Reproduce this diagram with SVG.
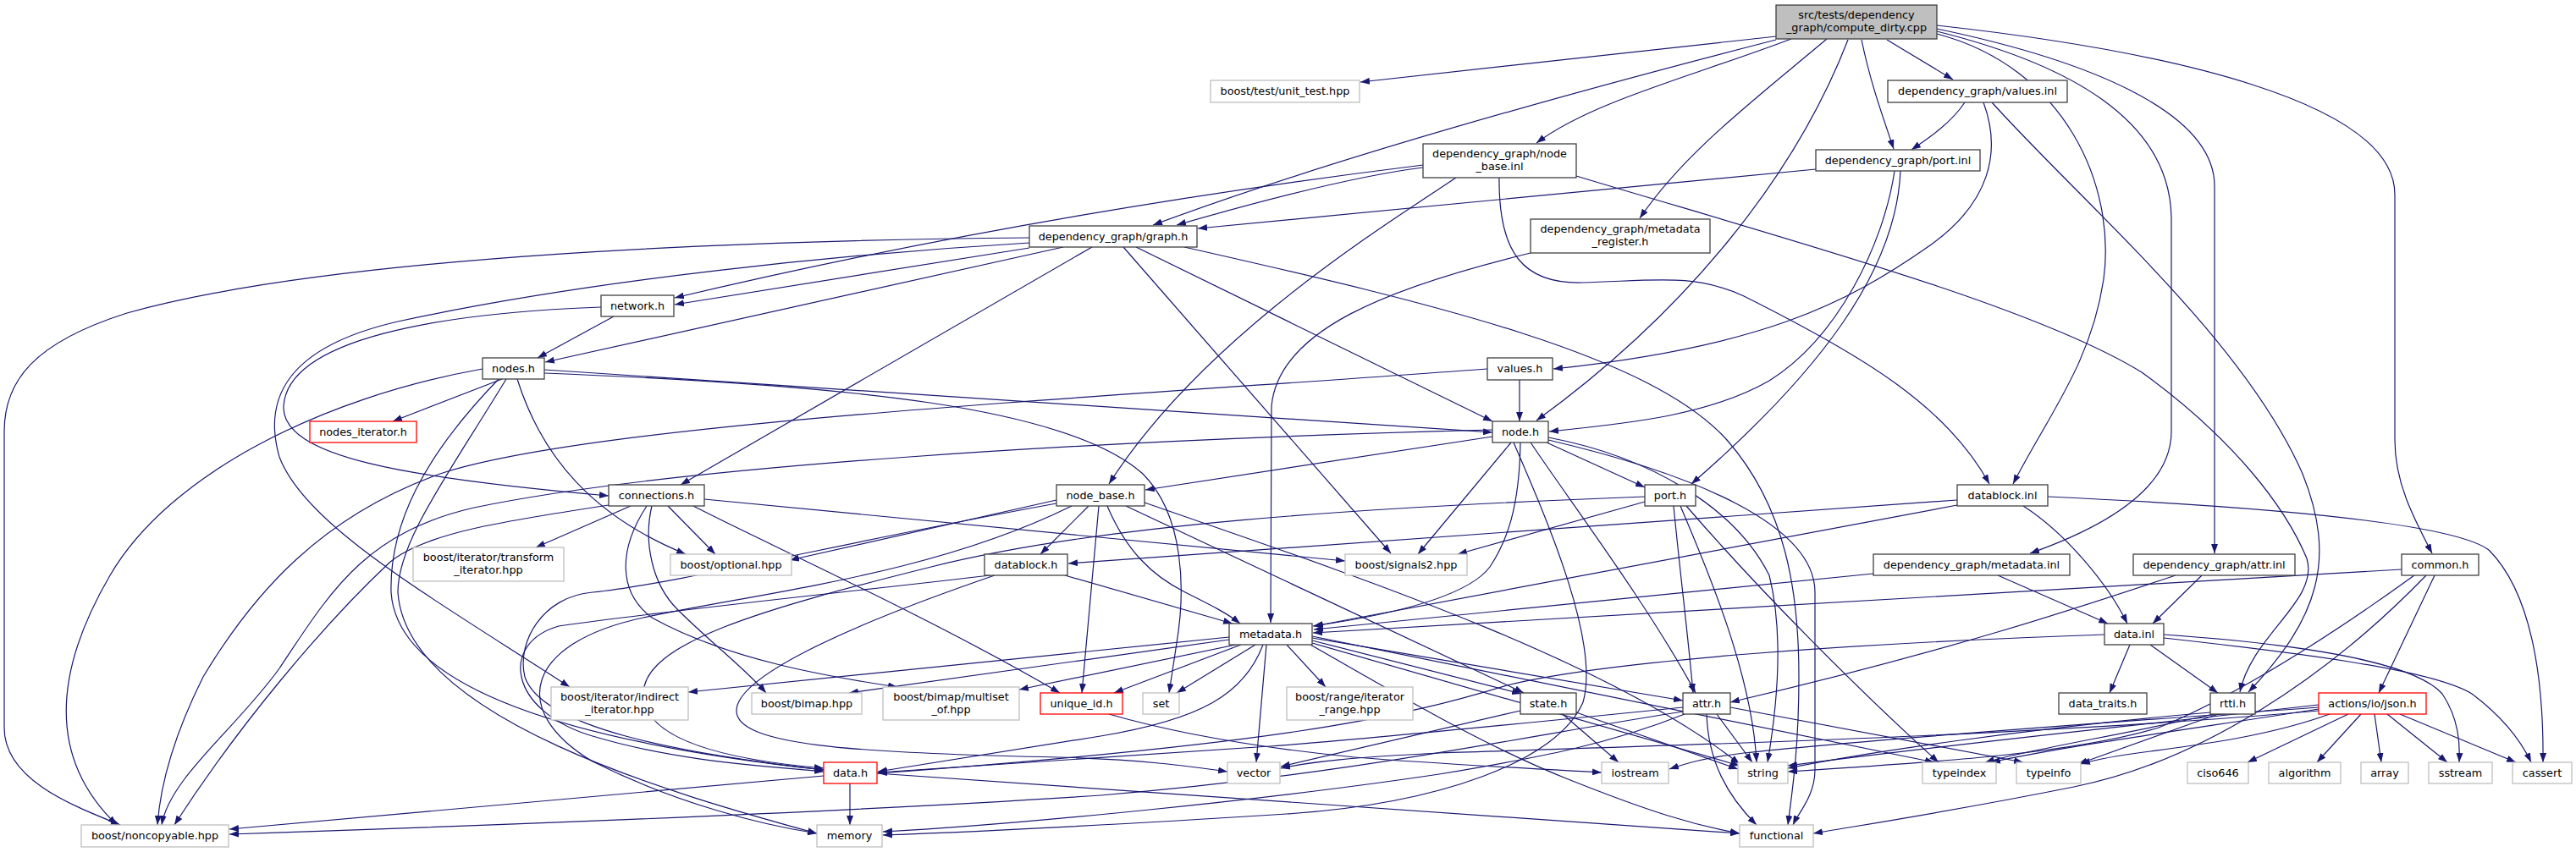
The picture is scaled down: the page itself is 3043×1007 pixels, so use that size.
<svg xmlns="http://www.w3.org/2000/svg" width="3043" height="1007" viewBox="0 0 3043 1007">
<style>
rect{fill:#fff;stroke:#404040;stroke-width:1.3}
.g rect{stroke:#bfbfbf}
.r rect{stroke:#ff0000}
.root rect{fill:#bfbfbf}
text{font-family:"DejaVu Sans","Liberation Sans",sans-serif;font-size:12.8px;text-anchor:middle;fill:#000}
#edges path{fill:none;stroke:#191970;stroke-width:1.2}
</style>
<defs>
<marker id="a" viewBox="0 0 11 8" refX="11" refY="4" markerWidth="11" markerHeight="8" orient="auto" markerUnits="userSpaceOnUse"><path d="M0,0L11,4L0,8z" fill="#191970"/></marker>
</defs>
<rect x="0" y="0" width="3043" height="1007" style="fill:#fff;stroke:none"/>
<g id="edges" marker-end="url(#a)">
<path d="M2098,43 L1607,97"/>
<path d="M2098,47 Q1620,170 1362,266"/>
<path d="M2116,46 C2000,90 1880,120 1815,169"/>
<path d="M2158,46 C2070,120 1990,180 1937,258"/>
<path d="M2183,47 C2120,210 1990,370 1815,497"/>
<path d="M2199,47 C2210,100 2225,140 2237,176"/>
<path d="M2229,47 L2307,94"/>
<path d="M2288,40 C2440,80 2500,220 2485,330 C2470,430 2420,490 2378,572"/>
<path d="M2288,37 C2440,75 2565,140 2565,260 L2565,510 C2565,580 2480,625 2398,654"/>
<path d="M2288,34 C2460,70 2616,130 2616,220 L2616,654"/>
<path d="M2288,30 C2560,60 2829,120 2829,230 L2829,520 C2829,570 2850,610 2873,654"/>
<path d="M2321,121 C2305,145 2280,162 2258,177"/>
<path d="M2343,121 C2365,180 2350,240 2280,290 C2180,360 2080,410 1835,436"/>
<path d="M2353,121 C2460,240 2650,400 2720,560 C2760,660 2740,730 2656,818"/>
<path d="M2145,200 L1415,270"/>
<path d="M2238,202 C2225,290 2170,400 2090,450 C2020,490 1930,500 1830,510"/>
<path d="M2245,202 C2240,320 2150,440 1998,572"/>
<path d="M1681,198 C1600,208 1480,240 1390,266"/>
<path d="M1681,195 C1400,230 1100,280 797,352"/>
<path d="M1720,210 C1630,270 1420,400 1310,572"/>
<path d="M1771,210 C1770,300 1800,336 1870,334 C1950,332 2000,322 2060,350 C2200,420 2300,480 2350,572"/>
<path d="M1862,208 C2100,280 2400,360 2530,440 C2640,520 2700,600 2725,660 C2740,710 2660,750 2646,818"/>
<path d="M1808,299 C1640,340 1510,390 1502,480 L1501,736"/>
<path d="M1216,281 C900,284 400,300 150,370 C40,405 5,450 5,510 L5,860 C5,920 80,950 142,975"/>
<path d="M1216,293 L797,360"/>
<path d="M1256,292 L644,428"/>
<path d="M1290,292 L804,573"/>
<path d="M1327,292 L1643,654"/>
<path d="M1342,292 L1763,498"/>
<path d="M1399,292 C1700,360 1950,420 2040,520 C2110,600 2125,700 2125,800 C2125,880 2118,930 2112,975"/>
<path d="M1216,287 C1000,300 700,330 470,380 C340,410 310,470 330,540 C360,620 500,700 673,812"/>
<path d="M725,374 L635,423"/>
<path d="M710,363 C520,370 340,400 335,480 C332,540 480,565 719,586"/>
<path d="M593,448 L464,498"/>
<path d="M643,437 L1763,511"/>
<path d="M643,441 C1000,455 1260,480 1350,560 C1400,610 1400,700 1390,760 L1381,819"/>
<path d="M570,436 C380,470 200,560 130,680 C60,800 60,900 138,975"/>
<path d="M611,448 C640,540 700,610 810,655"/>
<path d="M589,448 C500,540 460,620 462,700 C470,820 700,880 973,910"/>
<path d="M598,448 C530,560 470,640 470,700 C480,850 800,940 965,985"/>
<path d="M1795,449 L1795,498"/>
<path d="M1757,436 C1300,470 700,500 520,560 C380,610 300,700 240,800 C210,860 190,920 186,975"/>
<path d="M1763,516 L1353,579"/>
<path d="M1827,523 L1943,576"/>
<path d="M1785,523 L1675,655"/>
<path d="M1796,523 C1795,600 1780,640 1760,670 C1730,710 1620,730 1551,740"/>
<path d="M1808,523 C1860,600 1950,720 2003,819"/>
<path d="M1829,517 C1950,540 2050,600 2090,680 C2110,760 2095,860 2088,901"/>
<path d="M1829,520 C2000,560 2144,620 2144,700 L2144,910 C2144,940 2125,960 2118,975"/>
<path d="M1788,523 C1830,620 1890,760 1870,830 C1840,900 1700,950 1520,962 C1300,976 1150,983 1043,987"/>
<path d="M1763,508 C1300,520 800,550 560,600 C430,630 390,700 330,790 C280,860 200,920 191,975"/>
<path d="M1943,593 L1722,655"/>
<path d="M1977,598 C1985,680 1995,760 2000,819"/>
<path d="M1985,598 C2020,680 2070,800 2075,901"/>
<path d="M1992,598 C2080,700 2200,820 2290,901"/>
<path d="M1943,587 C1600,600 1300,620 1100,670 C900,720 760,760 760,820 C760,880 880,900 973,908"/>
<path d="M789,598 L845,655"/>
<path d="M832,590 L1589,663"/>
<path d="M819,598 C900,640 1100,730 1252,819"/>
<path d="M770,598 C760,640 770,690 800,720 C840,760 880,790 905,819"/>
<path d="M764,598 C730,650 730,700 770,730 C860,780 980,800 1060,812"/>
<path d="M745,598 L633,647"/>
<path d="M719,597 C600,615 500,630 460,665 C380,740 280,860 206,975"/>
<path d="M1248,591 L933,662"/>
<path d="M1286,598 L1229,655"/>
<path d="M1308,598 C1330,650 1360,680 1400,700 C1430,715 1450,725 1465,737"/>
<path d="M1298,598 L1278,819"/>
<path d="M1330,598 L1800,819"/>
<path d="M1352,594 C1600,680 1900,780 2055,903"/>
<path d="M1248,595 C1000,640 800,690 700,700 C640,705 610,760 620,800 C640,860 800,890 973,910"/>
<path d="M1266,598 C1100,680 900,700 760,730 C620,760 600,840 700,900 C800,950 900,975 965,985"/>
<path d="M1258,680 L1456,737"/>
<path d="M1170,680 C1000,700 800,720 660,740 C590,760 600,840 700,870 C800,900 900,905 973,912"/>
<path d="M1175,680 C1000,740 870,800 870,840 C870,880 1000,890 1250,895 C1350,898 1400,905 1450,912"/>
<path d="M1452,753 L813,818"/>
<path d="M1452,756 L1003,819"/>
<path d="M1460,762 L1204,815"/>
<path d="M1466,762 L1316,819"/>
<path d="M1483,762 L1390,819"/>
<path d="M1496,762 L1484,901"/>
<path d="M1492,762 C1470,820 1420,850 1300,870 C1180,890 1080,905 1037,912"/>
<path d="M1520,762 L1566,812"/>
<path d="M1550,757 L1797,820"/>
<path d="M1550,754 L1988,828"/>
<path d="M1550,760 L2055,905"/>
<path d="M1548,762 C1650,820 1750,880 1850,920 C1950,960 2000,975 2055,985"/>
<path d="M1550,752 L2285,901"/>
<path d="M1004,926 L1004,975"/>
<path d="M973,917 L271,980"/>
<path d="M1036,914 L2055,985"/>
<path d="M1310,844 C1400,870 1500,885 1600,895 C1700,903 1800,908 1892,913"/>
<path d="M1796,840 L1513,906"/>
<path d="M1846,844 L1912,901"/>
<path d="M1862,842 L2053,909"/>
<path d="M1988,836 C1800,855 1600,875 1500,882 C1300,895 1150,905 1037,913"/>
<path d="M1988,841 C1800,870 1600,915 1300,940 C1000,960 600,975 271,986"/>
<path d="M1990,844 C1900,880 1820,895 1700,915 C1500,945 1200,975 1043,983"/>
<path d="M2028,844 L2070,901"/>
<path d="M2016,844 C2018,900 2040,940 2075,975"/>
<path d="M2044,836 L2390,901"/>
<path d="M2516,762 L2492,819"/>
<path d="M2540,762 L2620,819"/>
<path d="M2556,750 C2700,760 2850,780 2885,820 C2905,850 2906,880 2905,901"/>
<path d="M2556,754 C2700,770 2870,790 2920,820 C2960,850 2980,880 2990,901"/>
<path d="M2486,750 C2200,760 1900,780 1780,810 C1650,850 1500,880 1037,914"/>
<path d="M2615,844 C2500,870 2400,885 2345,901"/>
<path d="M2620,844 L2455,903"/>
<path d="M2611,842 C2400,860 2200,890 2112,908"/>
<path d="M2774,844 L2655,901"/>
<path d="M2789,844 L2737,901"/>
<path d="M2805,844 L2813,901"/>
<path d="M2820,844 L2891,901"/>
<path d="M2835,844 L2972,901"/>
<path d="M2752,844 C2680,870 2600,880 2540,888 C2500,893 2475,898 2458,903"/>
<path d="M2739,838 C2600,860 2450,880 2352,901"/>
<path d="M2739,833 C2500,860 2300,880 2112,905"/>
<path d="M2739,836 C2400,860 2150,880 2060,890 C2010,896 1990,903 1972,909"/>
<path d="M2739,840 C2400,870 2000,880 1700,890 C1600,895 1550,900 1513,908"/>
<path d="M2876,680 L2810,819"/>
<path d="M2837,673 L1551,748"/>
<path d="M2852,680 C2700,790 2600,840 2550,860 C2450,890 2300,900 2112,912"/>
<path d="M2866,680 C2750,800 2600,900 2450,930 C2300,960 2200,975 2142,985"/>
<path d="M2312,591 L1262,666"/>
<path d="M2312,597 L1552,740"/>
<path d="M2390,598 C2440,630 2490,690 2513,737"/>
<path d="M2419,587 C2700,600 2900,620 2940,650 C2990,700 3005,800 3004,901"/>
<path d="M2213,678 L1552,744"/>
<path d="M2360,680 L2490,737"/>
<path d="M2570,680 C2450,720 2300,770 2044,830"/>
<path d="M2601,680 L2543,737"/>
</g>
<g id="n-root" class="root"><rect x="2098" y="6" width="190" height="40"/><text x="2193" y="22">src/tests/dependency</text><text x="2193" y="37">_graph/compute_dirty.cpp</text></g>
<g id="n-unit" class="g"><rect x="1430" y="95" width="176" height="26"/><text x="1518" y="112">boost/test/unit_test.hpp</text></g>
<g id="n-vinl"><rect x="2230" y="95" width="212" height="26"/><text x="2336" y="112">dependency_graph/values.inl</text></g>
<g id="n-nbinl"><rect x="1681" y="170" width="181" height="40"/><text x="1771.5" y="186">dependency_graph/node</text><text x="1771.5" y="201">_base.inl</text></g>
<g id="n-pinl"><rect x="2145" y="177" width="194" height="25"/><text x="2242" y="194">dependency_graph/port.inl</text></g>
<g id="n-graph"><rect x="1216" y="267" width="198" height="25"/><text x="1315" y="284">dependency_graph/graph.h</text></g>
<g id="n-mreg"><rect x="1808" y="259" width="212" height="40"/><text x="1914" y="275">dependency_graph/metadata</text><text x="1914" y="290">_register.h</text></g>
<g id="n-network"><rect x="710" y="349" width="86" height="25"/><text x="753" y="366">network.h</text></g>
<g id="n-nodes"><rect x="570" y="423" width="73" height="25"/><text x="606.5" y="440">nodes.h</text></g>
<g id="n-valuesh"><rect x="1757" y="423" width="77" height="26"/><text x="1795.5" y="440">values.h</text></g>
<g id="n-nit" class="r"><rect x="366" y="498" width="126" height="25"/><text x="429" y="515">nodes_iterator.h</text></g>
<g id="n-node"><rect x="1763" y="498" width="66" height="25"/><text x="1796" y="515">node.h</text></g>
<g id="n-conn"><rect x="719" y="573" width="113" height="25"/><text x="775.5" y="590">connections.h</text></g>
<g id="n-nbh"><rect x="1248" y="573" width="104" height="25"/><text x="1300" y="590">node_base.h</text></g>
<g id="n-porth"><rect x="1943" y="573" width="60" height="25"/><text x="1973" y="590">port.h</text></g>
<g id="n-dbinl"><rect x="2312" y="573" width="107" height="25"/><text x="2365.5" y="590">datablock.inl</text></g>
<g id="n-trans" class="g"><rect x="488" y="647" width="178" height="40"/><text x="577" y="663">boost/iterator/transform</text><text x="577" y="678">_iterator.hpp</text></g>
<g id="n-opt" class="g"><rect x="792" y="655" width="143" height="25"/><text x="863.5" y="672">boost/optional.hpp</text></g>
<g id="n-dbh"><rect x="1163" y="655" width="98" height="25"/><text x="1212" y="672">datablock.h</text></g>
<g id="n-sig" class="g"><rect x="1589" y="655" width="144" height="25"/><text x="1661" y="672">boost/signals2.hpp</text></g>
<g id="n-minl"><rect x="2213" y="655" width="232" height="25"/><text x="2329" y="672">dependency_graph/metadata.inl</text></g>
<g id="n-ainl"><rect x="2520" y="655" width="191" height="25"/><text x="2615.5" y="672">dependency_graph/attr.inl</text></g>
<g id="n-common"><rect x="2837" y="655" width="91" height="25"/><text x="2882.5" y="672">common.h</text></g>
<g id="n-meta"><rect x="1452" y="737" width="98" height="25"/><text x="1501" y="754">metadata.h</text></g>
<g id="n-dinl"><rect x="2486" y="737" width="70" height="25"/><text x="2521" y="754">data.inl</text></g>
<g id="n-indir" class="g"><rect x="651" y="812" width="162" height="39"/><text x="732" y="828">boost/iterator/indirect</text><text x="732" y="843">_iterator.hpp</text></g>
<g id="n-bimap" class="g"><rect x="888" y="819" width="130" height="25"/><text x="953" y="836">boost/bimap.hpp</text></g>
<g id="n-mset" class="g"><rect x="1043" y="812" width="161" height="39"/><text x="1123.5" y="828">boost/bimap/multiset</text><text x="1123.5" y="843">_of.hpp</text></g>
<g id="n-uid" class="r"><rect x="1229" y="819" width="97" height="25"/><text x="1277.5" y="836">unique_id.h</text></g>
<g id="n-set" class="g"><rect x="1350" y="819" width="43" height="25"/><text x="1371.5" y="836">set</text></g>
<g id="n-range" class="g"><rect x="1520" y="812" width="149" height="39"/><text x="1594.5" y="828">boost/range/iterator</text><text x="1594.5" y="843">_range.hpp</text></g>
<g id="n-state"><rect x="1796" y="819" width="66" height="25"/><text x="1829" y="836">state.h</text></g>
<g id="n-attrh"><rect x="1988" y="819" width="56" height="25"/><text x="2016" y="836">attr.h</text></g>
<g id="n-dtraits"><rect x="2432" y="819" width="104" height="25"/><text x="2484" y="836">data_traits.h</text></g>
<g id="n-rtti"><rect x="2611" y="819" width="53" height="25"/><text x="2637.5" y="836">rtti.h</text></g>
<g id="n-json" class="r"><rect x="2739" y="819" width="127" height="25"/><text x="2802.5" y="836">actions/io/json.h</text></g>
<g id="n-datah" class="r"><rect x="973" y="901" width="63" height="25"/><text x="1004.5" y="918">data.h</text></g>
<g id="n-vector" class="g"><rect x="1450" y="901" width="62" height="25"/><text x="1481" y="918">vector</text></g>
<g id="n-iostream" class="g"><rect x="1892" y="901" width="79" height="25"/><text x="1931.5" y="918">iostream</text></g>
<g id="n-string" class="g"><rect x="2053" y="901" width="59" height="25"/><text x="2082.5" y="918">string</text></g>
<g id="n-tindex" class="g"><rect x="2271" y="901" width="87" height="25"/><text x="2314.5" y="918">typeindex</text></g>
<g id="n-tinfo" class="g"><rect x="2382" y="901" width="76" height="25"/><text x="2420" y="918">typeinfo</text></g>
<g id="n-ciso" class="g"><rect x="2584" y="901" width="72" height="25"/><text x="2620" y="918">ciso646</text></g>
<g id="n-algo" class="g"><rect x="2680" y="901" width="85" height="25"/><text x="2722.5" y="918">algorithm</text></g>
<g id="n-array" class="g"><rect x="2789" y="901" width="56" height="25"/><text x="2817" y="918">array</text></g>
<g id="n-sstream" class="g"><rect x="2869" y="901" width="75" height="25"/><text x="2906.5" y="918">sstream</text></g>
<g id="n-cassert" class="g"><rect x="2968" y="901" width="70" height="25"/><text x="3003" y="918">cassert</text></g>
<g id="n-nonc" class="g"><rect x="96" y="975" width="174" height="26"/><text x="183" y="992">boost/noncopyable.hpp</text></g>
<g id="n-memory" class="g"><rect x="965" y="975" width="77" height="26"/><text x="1003.5" y="992">memory</text></g>
<g id="n-func" class="g"><rect x="2055" y="975" width="87" height="26"/><text x="2098.5" y="992">functional</text></g>
</svg>
